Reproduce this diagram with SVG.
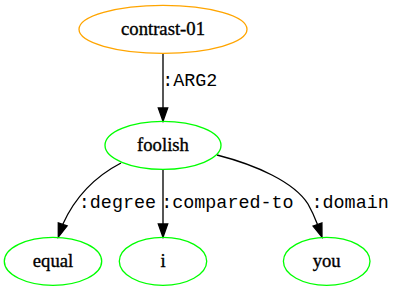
<svg xmlns="http://www.w3.org/2000/svg" width="395" height="291" viewBox="0 0 395 291">
  <defs>
    <style>
      .node ellipse { fill: none; stroke-width: 1.33; }
      .amr ellipse { stroke: #ffa500; }
      .concept ellipse { stroke: #00ff00; }
      .node text { font-family: "Liberation Serif", "Times New Roman", serif; font-size: 18.67px; text-anchor: middle; fill: #000; stroke: #000; stroke-width: 0.35; }
      .edge path { fill: none; stroke: #000; stroke-width: 1.33; }
      .edge polygon { fill: #000; stroke: #000; stroke-width: 1.33; }
      .edge text { font-family: "Liberation Mono", "Courier New", monospace; font-size: 18.4px; fill: #000; }
    </style>
  </defs>
  <rect width="395" height="291" fill="#fff"/>

  <!-- edges -->
  <g id="edges">
    <g class="edge" id="e-contrast-foolish">
      <path d="M163,53.3 L163,108"/>
      <polygon points="158.3,108 167.7,108 163,121.3"/>
      <text x="162.2" y="86">:ARG2</text>
    </g>
    <g class="edge" id="e-foolish-equal">
      <path d="M121,163 C96,176 76,195 62.7,224.4"/>
      <polygon points="58.3,222.9 67.1,225.9 58.3,237"/>
      <text x="78.8" y="207.5">:degree</text>
    </g>
    <g class="edge" id="e-foolish-i">
      <path d="M163,169.3 L163,224"/>
      <polygon points="158.3,224 167.7,224 163,237.3"/>
      <text x="161.2" y="207.5">:compared-to</text>
    </g>
    <g class="edge" id="e-foolish-you">
      <path d="M217,155 C256,165 294,182 308,204 C312,211 315,218 317.5,224.5"/>
      <polygon points="313.1,226.1 321.9,222.9 322,237"/>
      <text x="311.5" y="207.5">:domain</text>
    </g>
  </g>

  <!-- nodes -->
  <g class="node amr" id="contrast-01">
    <ellipse cx="163" cy="29.3" rx="84" ry="24"/>
    <text x="163" y="34.5">contrast-01</text>
  </g>
  <g class="node concept" id="foolish">
    <ellipse cx="163" cy="145.3" rx="58" ry="24"/>
    <text x="163" y="150.5">foolish</text>
  </g>
  <g class="node concept" id="equal">
    <ellipse cx="53" cy="261.3" rx="48.7" ry="24"/>
    <text x="53" y="266.5">equal</text>
  </g>
  <g class="node concept" id="i">
    <ellipse cx="163" cy="261.3" rx="43.7" ry="24"/>
    <text x="163" y="266.5">i</text>
  </g>
  <g class="node concept" id="you">
    <ellipse cx="326.7" cy="261.3" rx="43.3" ry="24"/>
    <text x="326.7" y="266.5">you</text>
  </g>
</svg>
